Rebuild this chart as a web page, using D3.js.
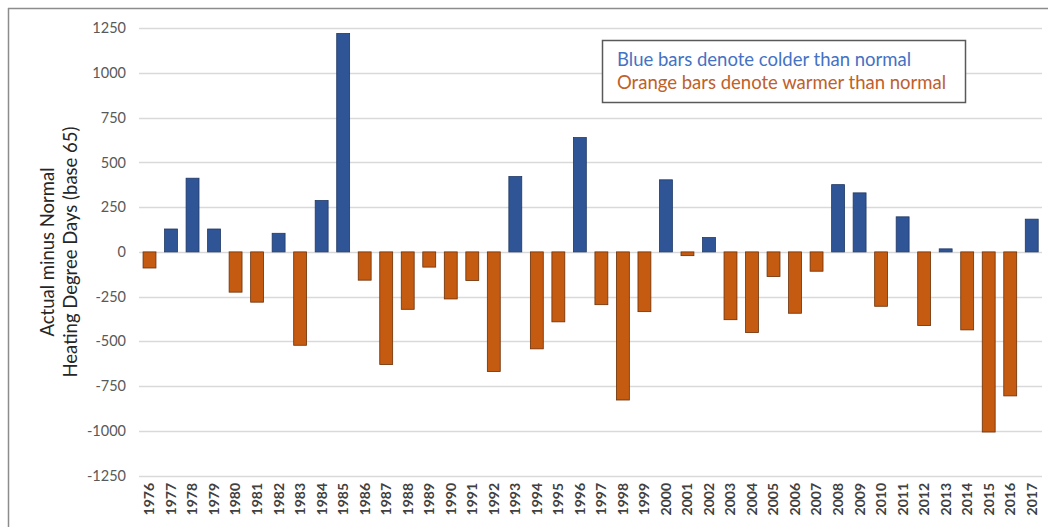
<!DOCTYPE html>
<html><head><meta charset="utf-8">
<script src="https://cdn.jsdelivr.net/npm/d3@7"></script>
<style>body{margin:0;background:#fff}svg{display:block}</style>
</head><body>
<svg id="c" width="1048" height="527"></svg>
<script>
const years = d3.range(1976, 2018).map(String);
const values = [-90,128,412,128,-225,-281,104,-522,287,1221,
  -158,-630,-321,-85,-263,-160,-669,421,-542,-391,
  639,-295,-828,-334,403,-21,80,-379,-451,-138,
  -343,-108,376,330,-304,196,-412,17,-436,-1007,
  -805,183];
const yTicks = [1250,1000,750,500,250,0,-250,-500,-750,-1000,-1250];
const legendLines = ["Blue bars denote colder than normal","Orange bars denote warmer than normal"];
const yTitle = ["Actual minus Normal","Heating Degree Days (base 65)"];

const svg = d3.select("#c");
const font = "Lato, 'Open Sans', sans-serif";
const x = d3.scaleBand().domain(years).range([138.75, 1042.5]).paddingInner(0.4).paddingOuter(0.2);
const y = d3.scaleLinear().domain([-1250,1250]).range([475.5, 28.3]);

// frame
svg.append("line").attr("x1",8).attr("x2",1048).attr("y1",8.5).attr("y2",8.5).attr("stroke","#8c8c8c").attr("stroke-width",1.5);
svg.append("line").attr("x1",8.5).attr("x2",8.5).attr("y1",8).attr("y2",527).attr("stroke","#8c8c8c").attr("stroke-width",1.5);

// gridlines
svg.append("g").selectAll("line").data(yTicks).join("line")
  .attr("x1",139).attr("x2",1042).attr("y1",d=>Math.round(y(d))+0.5).attr("y2",d=>Math.round(y(d))+0.5)
  .attr("stroke","#d9d9d9").attr("stroke-width",1.3);

// y axis
const ya = svg.append("g").attr("transform","translate(126,0)")
  .call(d3.axisLeft(y).tickValues(yTicks).tickSize(0).tickPadding(0).tickFormat(d=>String(d)));
ya.select(".domain").remove();
ya.selectAll("text").attr("font-family",font).attr("font-size",14.5).attr("fill","#595959");

// bars
svg.append("g").selectAll("rect").data(values).join("rect")
  .attr("x",(d,i)=>x(years[i]))
  .attr("width",x.bandwidth())
  .attr("y",d=>y(Math.max(0,d)))
  .attr("height",d=>Math.abs(y(d)-y(0)))
  .attr("fill",d=>d>=0?"#2f5597":"#c55a11")
  .attr("stroke",d=>d>=0?"#1f3864":"#6b3008")
  .attr("stroke-width",0.8);

// x axis labels
const xa = svg.append("g").attr("transform","translate(0,483)")
  .call(d3.axisBottom(x).tickSize(0).tickPadding(0));
xa.select(".domain").remove();
xa.selectAll("text").attr("font-family",font).attr("font-size",14).attr("font-weight","bold").attr("fill","#404040")
  .attr("transform","rotate(-90)").attr("text-anchor","end").attr("dy","0.35em").attr("x",0).attr("y",0);

// y title
const yt = svg.append("text").attr("transform","translate(56,252) rotate(-90)")
  .attr("text-anchor","middle").attr("font-family",font).attr("font-size",18.5).attr("fill","#262626");
yt.selectAll("tspan").data(yTitle).join("tspan").attr("x",0).attr("dy",(d,i)=>i===0?"-0.1em":"1.25em").text(d=>d);

// legend
svg.append("rect").attr("x",602.5).attr("y",40.5).attr("width",363).attr("height",62).attr("fill","#fff").attr("stroke","#595959").attr("stroke-width",1.5);
svg.append("g").selectAll("text").data(legendLines).join("text")
  .attr("x",617).attr("y",(d,i)=>66+i*23)
  .attr("font-family",font).attr("font-size",18.5)
  .attr("fill",(d,i)=>i===0?"#4472c4":"#c0602a")
  .text(d=>d);
</script>
</body></html>
